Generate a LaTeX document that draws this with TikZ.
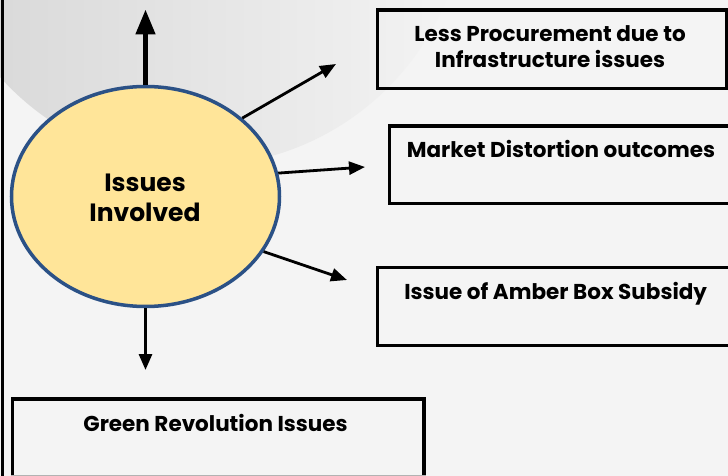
\documentclass[tikz,border=0pt]{standalone}
\usepackage{fontspec}
\setmainfont{Poppins}
\usetikzlibrary{arrows.meta,shapes.geometric}
\definecolor{bg}{HTML}{F4F4F4}
\definecolor{ovalfill}{HTML}{FFE599}
\definecolor{ovalline}{HTML}{2B5186}
\definecolor{shadeA}{HTML}{D6D6D6}
\definecolor{shadeB}{HTML}{F4F4F4}
\begin{document}
\begin{tikzpicture}[x=1pt,y=-1pt,
  boxframe/.style={draw=black,line width=3.5pt,rectangle,inner sep=0pt,anchor=north west},
  boxtext/.style={font=\bfseries\fontsize{21.5}{26}\selectfont,anchor=base,inner sep=0pt},
  centertext/.style={font=\bfseries\fontsize{25}{30}\selectfont,anchor=base,inner sep=0pt},
  link/.style={line width=2.8pt,-{Triangle[length=16pt,width=13pt]}},
]
\useasboundingbox (0,0) rectangle (728,476);
\clip (0,0) rectangle (728,476);
\fill[bg] (0,0) rectangle (728,476);
% soft backdrop disc
\shade[left color=shadeA,right color=shadeB] (199,-101) circle[radius=267];

% outcome boxes
\node[boxframe,minimum width=349.5pt,minimum height=78.5pt] (lessproc) at (375.5,8.5) {};
\node[boxframe,minimum width=352.5pt,minimum height=77pt] (market) at (387.5,124.5) {};
\node[boxframe,minimum width=365pt,minimum height=78pt] (amber) at (375.5,265.5) {};
\node[boxframe,minimum width=411.5pt,minimum height=100pt] (green) at (10.5,397) {};

\node[boxtext] (lessprocA) at (550,41.7) {Less Procurement due to};
\node[boxtext] (lessprocB) at (550,67.7) {Infrastructure issues};
\node[boxtext] (markettxt) at (561,157.3) {Market Distortion outcomes};
\node[boxtext] (ambertxt) at (555.7,299.7) {Issue of Amber Box Subsidy};
\node[boxtext] (greentxt) at (215.5,431.3) {Green Revolution Issues};

% central oval
\node[ellipse,draw=ovalline,fill=ovalfill,line width=3.5pt,minimum width=268pt,minimum height=220pt,inner sep=0pt] (issues) at (145.5,196.5) {};
\node[centertext] (issuesA) at (145,191.7) {Issues};
\node[centertext] (issuesB) at (145,221) {Involved};

% arrow ends
\coordinate (upend) at (145.5,9.5);
\coordinate (downend) at (145.5,370);
\coordinate (tipA) at (336,64);
\coordinate (tipB) at (365,167);
\coordinate (tipC) at (347,280);

\draw[line width=4.8pt,-{Triangle[length=25pt,width=19pt]}] (issues.north) -- (upend);
\draw[link,line width=3pt] (issues.south) -- (downend);
\draw[link] (issues.39.5) -- (tipA);
\draw[link] (issues.10) -- (tipB);
\draw[link] (issues.-25) -- (tipC);

% page frame details
\draw[line width=2.5pt] (2.5,0) -- (2.5,476);
\draw[gray!60,line width=1pt] (green.south west |- 0,475.5) -- (green.south east |- 0,475.5);
\end{tikzpicture}
\end{document}
